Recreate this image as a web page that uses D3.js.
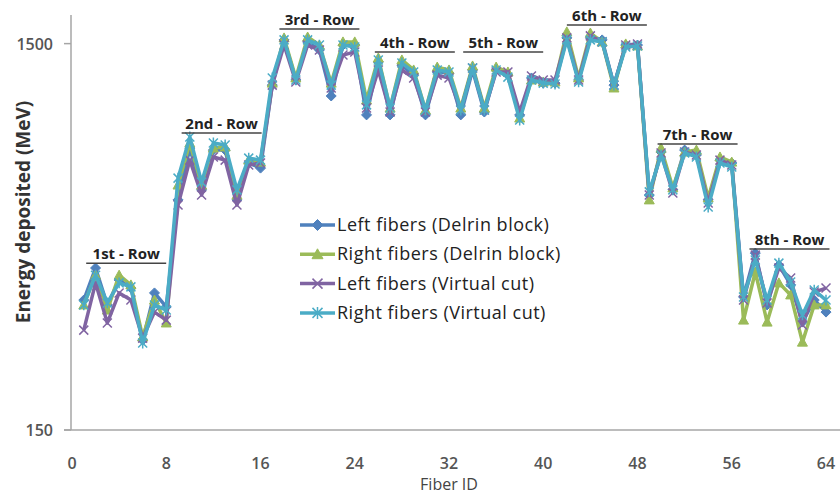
<!DOCTYPE html>
<html>
<head>
<meta charset="utf-8">
<script src="https://cdn.jsdelivr.net/npm/d3@7"></script>
<style>
	body { margin: 0; background: #fff; }
	svg { display: block; font-family: 'Open Sans', 'DejaVu Sans', sans-serif; }
</style>
</head>
<body>
<svg id="chart" width="840" height="496"></svg>
<script>
'use strict'

// fiber ids 1..64
var fibers = d3.range(1, 65);

var leftDelrin = [
	604, 716, 587, 674, 646, 464, 629, 580,
	954, 1135, 989, 1128, 1128, 954, 1083, 1065,
	1355, 1513, 1373, 1506, 1478, 1317, 1495, 1495,
	1251, 1436, 1251, 1425, 1390, 1251, 1401, 1397,
	1251, 1408, 1261, 1408, 1390, 1251, 1380, 1362,
	1362, 1520, 1373, 1520, 1513, 1355, 1495, 1495,
	971, 1121, 989, 1128, 1111, 954, 1093, 1083,
	615, 768, 587, 726, 657, 527, 604, 562
];
var rightDelrin = [
	587, 691, 569, 691, 657, 475, 604, 524,
	1006, 1153, 1006, 1135, 1139, 971, 1093, 1086,
	1362, 1520, 1380, 1523, 1495, 1362, 1506, 1506,
	1303, 1450, 1275, 1443, 1408, 1268, 1418, 1408,
	1275, 1422, 1275, 1418, 1401, 1240, 1373, 1366,
	1366, 1541, 1380, 1537, 1506, 1345, 1499, 1492,
	954, 1135, 996, 1121, 1128, 961, 1104, 1086,
	534, 702, 527, 664, 622, 457, 587, 587
];
var leftVirtual = [
	499, 664, 524, 629, 604, 471, 562, 534,
	936, 1093, 971, 1104, 1093, 936, 1076, 1083,
	1355, 1495, 1366, 1495, 1478, 1345, 1460, 1471,
	1275, 1408, 1261, 1408, 1380, 1261, 1390, 1380,
	1268, 1415, 1268, 1401, 1401, 1261, 1387, 1373,
	1373, 1520, 1373, 1527, 1506, 1355, 1495, 1499,
	971, 1118, 978, 1121, 1111, 943, 1093, 1076,
	604, 761, 594, 716, 681, 517, 632, 646
];
var rightVirtual = [
	587, 691, 594, 664, 650, 454, 587, 569,
	1030, 1174, 1016, 1153, 1146, 989, 1100, 1093,
	1380, 1513, 1373, 1513, 1495, 1355, 1495, 1488,
	1286, 1443, 1275, 1432, 1401, 1268, 1408, 1401,
	1268, 1415, 1268, 1408, 1383, 1233, 1373, 1362,
	1359, 1513, 1366, 1513, 1506, 1355, 1488, 1492,
	982, 1111, 989, 1118, 1104, 929, 1083, 1069,
	615, 744, 604, 733, 667, 552, 639, 604
];

var seriesNames = [
	'Left fibers (Delrin block)',
	'Right fibers (Delrin block)',
	'Left fibers (Virtual cut)',
	'Right fibers (Virtual cut)'
];

var xTicks = [0, 8, 16, 24, 32, 40, 48, 56, 64];
var yTicks = [150, 1500];

// row annotations: label, centre fiber, energy level of the underline
var rowLabels = ['1st - Row', '2nd - Row', '3rd - Row', '4th - Row', '5th - Row', '6th - Row', '7th - Row', '8th - Row'];
var rowFiber = [4.6, 12.7, 21.0, 29.1, 36.6, 45.4, 53.1, 60.9];
var rowEnergy = [733, 1188, 1551, 1471, 1471, 1565, 1149, 782];

var colors = ['#4f81bd', '#9bbb59', '#8064a2', '#4bacc6'];
var markers = ['diamond', 'triangle', 'x', 'star'];

var svg = d3.select('#chart');

var xScale = d3.scaleLinear().domain([0, 64]).range([72, 826]);
var yScale = d3.scaleLinear().domain([150, 1600]).range([430, 15]);

// axes
svg.append('line')
	.attr('x1', 71).attr('x2', 71)
	.attr('y1', yScale(1600)).attr('y2', yScale(150))
	.attr('stroke', '#a6a6a6').attr('stroke-width', 1.5);
svg.append('line')
	.attr('x1', 64).attr('x2', 840)
	.attr('y1', yScale(150)).attr('y2', yScale(150))
	.attr('stroke', '#a6a6a6').attr('stroke-width', 1.5);

svg.append('g')
	.selectAll('line')
	.data(yTicks)
	.enter()
	.append('line')
	.attr('x1', 64).attr('x2', 71)
	.attr('y1', function(d){ return yScale(d); })
	.attr('y2', function(d){ return yScale(d); })
	.attr('stroke', '#a6a6a6').attr('stroke-width', 1.5);

svg.append('g')
	.selectAll('text')
	.data(yTicks)
	.enter()
	.append('text')
	.attr('x', 53)
	.attr('y', function(d){ return yScale(d) + 6; })
	.attr('text-anchor', 'end')
	.attr('font-size', 16)
	.attr('font-weight', 600)
	.attr('fill', '#555')
	.text(function(d){ return d; });

svg.append('g')
	.selectAll('text')
	.data(xTicks)
	.enter()
	.append('text')
	.attr('x', function(d){ return xScale(d); })
	.attr('y', 469)
	.attr('text-anchor', 'middle')
	.attr('font-size', 16)
	.attr('font-weight', 600)
	.attr('fill', '#555')
	.text(function(d){ return d; });

svg.append('text')
	.attr('x', 449).attr('y', 490)
	.attr('text-anchor', 'middle')
	.attr('font-size', 16)
	.attr('fill', '#444')
	.text('Fiber ID');

svg.append('text')
	.attr('transform', 'translate(30, 212) rotate(-90)')
	.attr('text-anchor', 'middle')
	.attr('font-size', 19)
	.attr('font-weight', 700)
	.attr('fill', '#333')
	.text('Energy deposited (MeV)');

// marker shapes
function markerPath(type, s){
	if(type === 'diamond')
		return `M0,${-s}L${s},0L0,${s}L${-s},0Z`;
	if(type === 'triangle')
		return `M0,${-s}L${s},${s*0.8}L${-s},${s*0.8}Z`;
	if(type === 'x')
		return `M${-s},${-s}L${s},${s}M${-s},${s}L${s},${-s}`;
	return `M${-s},${-s}L${s},${s}M${-s},${s}L${s},${-s}M0,${-s*1.2}L0,${s*1.2}`;
}

var allSeries = [leftDelrin, rightDelrin, leftVirtual, rightVirtual];

var line = d3.line()
	.x(function(d, i){ return xScale(fibers[i]); })
	.y(function(d){ return yScale(d); });

allSeries.forEach(function(values, k){
	var g = svg.append('g').attr('class', 'series');
	g.append('path')
		.attr('d', line(values))
		.attr('fill', 'none')
		.attr('stroke', colors[k])
		.attr('stroke-width', 3.5)
		.attr('stroke-linejoin', 'round');
	var filled = markers[k] === 'diamond' || markers[k] === 'triangle';
	g.selectAll('path.m')
		.data(values)
		.enter()
		.append('path')
		.attr('class', 'm')
		.attr('transform', function(d, i){ return `translate(${xScale(fibers[i])}, ${yScale(d)})`; })
		.attr('d', markerPath(markers[k], filled ? 5 : 4.5))
		.attr('fill', filled ? colors[k] : 'none')
		.attr('stroke', colors[k])
		.attr('stroke-width', filled ? 1 : 1.5);
});

// row labels
var rows = svg.append('g');
rowLabels.forEach(function(label, i){
	var cx = xScale(rowFiber[i]), cy = yScale(rowEnergy[i]);
	rows.append('text')
		.attr('x', cx).attr('y', cy - 4)
		.attr('text-anchor', 'middle')
		.attr('font-size', 15)
		.attr('font-weight', 700)
		.attr('fill', '#222')
		.text(label);
	rows.append('line')
		.attr('x1', cx - 40).attr('x2', cx + 40)
		.attr('y1', cy).attr('y2', cy)
		.attr('stroke', '#444').attr('stroke-width', 1.5);
});

// legend
var legend = svg.append('g').attr('transform', 'translate(300, 225)');
seriesNames.forEach(function(name, k){
	var y = k * 29.3;
	legend.append('line')
		.attr('x1', 0).attr('x2', 35)
		.attr('y1', y).attr('y2', y)
		.attr('stroke', colors[k]).attr('stroke-width', 3.5);
	var filled = markers[k] === 'diamond' || markers[k] === 'triangle';
	legend.append('path')
		.attr('transform', `translate(17.5, ${y})`)
		.attr('d', markerPath(markers[k], filled ? 5.5 : 5))
		.attr('fill', filled ? colors[k] : 'none')
		.attr('stroke', colors[k])
		.attr('stroke-width', filled ? 1 : 1.5);
	legend.append('text')
		.attr('x', 37).attr('y', y + 6)
		.attr('font-size', 18)
		.attr('letter-spacing', 0.5)
		.attr('fill', '#222')
		.text(name);
});
</script>
</body>
</html>
